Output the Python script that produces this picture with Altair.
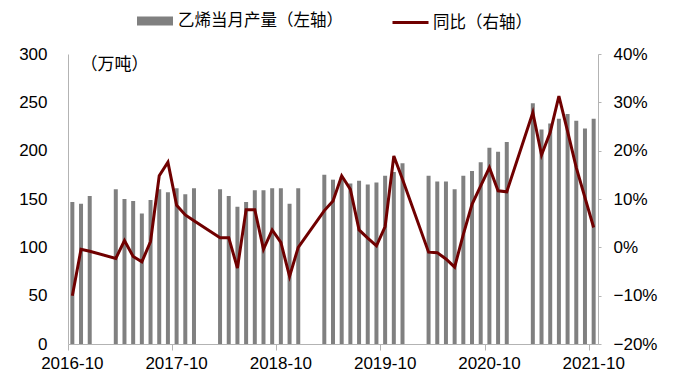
import altair as alt
import pandas as pd

# ---- data ----
months = [
    "2016-10", "2016-11", "2016-12",
    "2017-03", "2017-04", "2017-05", "2017-06", "2017-07", "2017-08", "2017-09", "2017-10", "2017-11", "2017-12",
    "2018-03", "2018-04", "2018-05", "2018-06", "2018-07", "2018-08", "2018-09", "2018-10", "2018-11", "2018-12",
    "2019-03", "2019-04", "2019-05", "2019-06", "2019-07", "2019-08", "2019-09", "2019-10", "2019-11", "2019-12",
    "2020-03", "2020-04", "2020-05", "2020-06", "2020-07", "2020-08", "2020-09", "2020-10", "2020-11", "2020-12",
    "2021-03", "2021-04", "2021-05", "2021-06", "2021-07", "2021-08", "2021-09", "2021-10",
]
production = [
    147, 145, 153,
    160, 150, 148, 135, 149, 160, 157, 161, 155, 161,
    160, 153, 142, 147, 159, 159, 161, 161, 145, 161,
    175, 170, 173, 166, 169, 165, 167, 174, 178, 187,
    174, 168, 168, 160, 174, 179, 188, 203, 199, 209,
    249, 222, 228, 233, 238, 231, 223, 233,
]
yoy_pct = [
    -10.0, -0.4, -0.8,
    -2.3, 1.4, -1.9, -3.0, 1.2, 14.8, 17.6, 8.7, 6.7, 5.5,
    2.0, 2.0, -4.3, 7.8, 7.8, -0.4, 3.6, 1.0, -6.0, 0.0,
    7.6, 9.6, 14.8, 12.0, 3.6, 1.9, 0.3, 4.3, 18.9, 14.1,
    -1.0, -1.1, -2.4, -4.1, 2.7, 8.9, 12.7, 16.5, 11.7, 11.5,
    27.9, 19.1, 23.8, 31.3, 24.0, 16.5, 10.3, 4.1,
]
tick_months = ["2016-10", "2017-10", "2018-10", "2019-10", "2020-10", "2021-10"]
left_ticks = [0, 50, 100, 150, 200, 250, 300]
right_ticks = [-0.2, -0.1, 0, 0.1, 0.2, 0.3, 0.4]
bar_name = "乙烯当月产量（左轴）"
line_name = "同比（右轴）"
unit_label = "（万吨）"

# full monthly category axis (gaps for missing Jan/Feb)
all_months = [f"{y}-{m:02d}" for y in range(2016, 2022) for m in range(1, 13)]
all_months = all_months[all_months.index("2016-10"): all_months.index("2021-10") + 1]

df = pd.DataFrame({
    "month": months,
    "prod": production,
    "yoy": [v / 100 for v in yoy_pct],
    "s1": bar_name,
    "s2": line_name,
})

FONT = "Liberation Sans, Arial, Noto Sans CJK SC"
CJK = "Noto Sans CJK SC"
AX = "#b3b3b3"
BAR = "#808080"
LINE = "#700000"

x = alt.X(
    "month:O",
    scale=alt.Scale(domain=all_months, paddingInner=0, paddingOuter=0),
    axis=alt.Axis(values=tick_months, labelAngle=0, title=None, bandPosition=0,
                  labelOffset=0, tickSize=6, labelPadding=5, domainColor=AX,
                  tickColor=AX, labelFontSize=17, labelColor="black", labelFont=FONT,
                  labelOverlap=False),
)

bars = alt.Chart(df).mark_bar(width=alt.RelativeBandSize(0.46)).encode(
    x=x,
    y=alt.Y("prod:Q", scale=alt.Scale(domain=[0, 300], nice=False),
            axis=alt.Axis(values=left_ticks, grid=False, ticks=False, labelPadding=21,
                          domainColor=AX, labelFontSize=17, labelColor="black",
                          labelFont=FONT, title=unit_label, titleAngle=0, titleX=12,
                          titleY=10, titleAlign="left", titleBaseline="middle",
                          titleFont=CJK, titleFontSize=17, titleFontWeight="normal",
                          titleColor="black")),
    color=alt.Color("s1:N", scale=alt.Scale(range=[BAR]),
                    legend=alt.Legend(orient="none", legendX=78, legendY=-42, title=None,
                                      symbolType="M-2,-0.5H2V0.5H-2Z", symbolSize=324,
                                      symbolStrokeWidth=0, labelFontSize=16.5, labelFont=CJK,
                                      labelColor="black", labelOffset=14, labelLimit=0)),
)

line = alt.Chart(df).mark_line(strokeWidth=3).encode(
    x=x,
    y=alt.Y("yoy:Q", scale=alt.Scale(domain=[-0.2, 0.4], nice=False),
            axis=alt.Axis(values=right_ticks, format=".0%", orient="right", grid=False,
                          tickSize=3, tickColor=AX, labelPadding=12, domainColor=AX,
                          labelFontSize=17, labelColor="black", labelFont=FONT, title=None)),
    stroke=alt.Stroke("s2:N", scale=alt.Scale(range=[LINE]),
                      legend=alt.Legend(orient="none", legendX=332, legendY=-42, title=None,
                                        symbolType="M-2,0H2", symbolSize=324,
                                        symbolStrokeWidth=3, labelFontSize=16.5, labelFont=CJK,
                                        labelColor="black", labelOffset=12, labelLimit=0)),
)

chart = alt.layer(bars, line).resolve_scale(y="independent", color="independent").properties(
    width=530,
    height=290,
    autosize=alt.AutoSizeParams(type="none"),
    padding={"left": 60, "top": 46, "right": 70, "bottom": 35},
    background="white",
).configure_view(stroke=None)

chart.save("out.html", embed_options={"renderer": "svg", "actions": False})
